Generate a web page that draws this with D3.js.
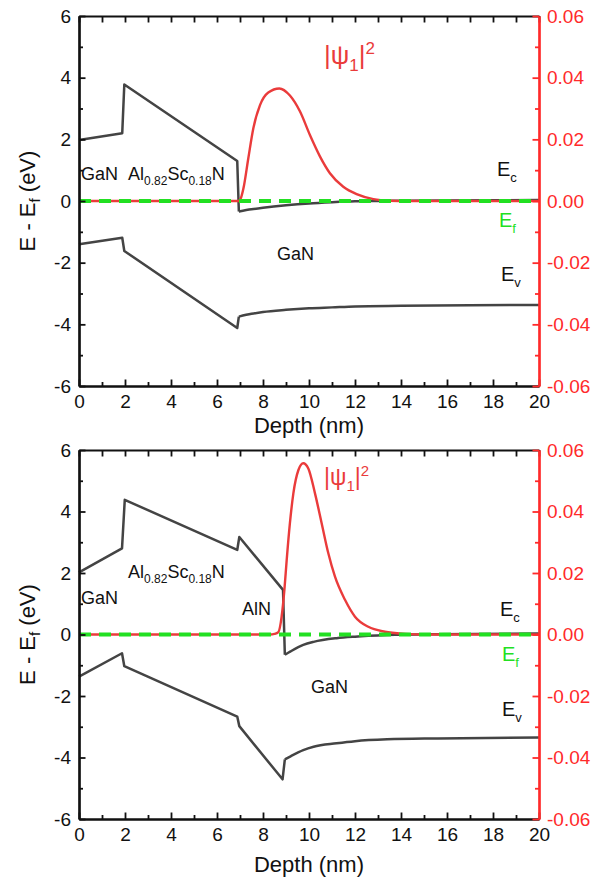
<!DOCTYPE html>
<html><head><meta charset="utf-8">
<script src="https://cdn.jsdelivr.net/npm/d3@7"></script>
<style>body{margin:0;background:#fff}svg{display:block}text{font-family:"Liberation Sans",Arial,sans-serif}</style>
</head><body><svg id="c" width="597" height="880"></svg>
<script>
// ---------- DATA ----------
const xTicks = [0,2,4,6,8,10,12,14,16,18,20];
const yTicks = [-6,-4,-2,0,2,4,6];
const y2Ticks = [-0.06,-0.04,-0.02,0,0.02,0.04,0.06];

// Panel 1 (GaN / Al0.82Sc0.18N / GaN)
const ecTopLin = [[0,1.98],[1.88,2.2],[1.97,3.78],[6.88,1.3],[6.95,-0.34]];
const ecTopTail = [[6.95,-0.34],[7.5,-0.27],[8,-0.22],[9,-0.14],[10,-0.08],[11,-0.04],[12,-0.01],[13,0.0],[14,0.01],[16,0.02],[20,0.03]];
const evTopLin = [[0,-1.4],[1.88,-1.19],[1.97,-1.62],[6.88,-4.12],[6.95,-3.75]];
const evTopTail = [[6.95,-3.75],[7.5,-3.66],[8,-3.6],[9,-3.53],[10,-3.48],[11,-3.45],[12,-3.42],[14,-3.4],[17,-3.38],[20,-3.37]];
const psiTop = [[0,0],[6.93,0],[7.05,0.0012],[7.15,0.0041],[7.36,0.0138],[7.58,0.0236],[7.87,0.0311],[8.23,0.0352],[8.71,0.0365],[9.17,0.0342],[9.61,0.029],[10.04,0.0214],[10.48,0.0144],[10.91,0.009],[11.49,0.0046],[12.07,0.0022],[12.8,0.0006],[13.5,0.0001],[14.3,0],[20,0]];

// Panel 2 (GaN / Al0.82Sc0.18N / AlN / GaN)
const ecBotLin = [[0,2.02],[1.87,2.8],[1.99,4.38],[6.88,2.75],[6.97,3.17],[8.87,1.45],[8.95,-0.66]];
const ecBotTail = [[8.95,-0.66],[9.2,-0.55],[9.75,-0.34],[10.2,-0.24],[11.2,-0.12],[12,-0.07],[13.4,-0.02],[15.6,0.01],[20,0.03]];
const evBotLin = [[0,-1.37],[1.87,-0.61],[1.97,-1.03],[6.88,-2.67],[6.97,-2.98],[8.85,-4.71],[8.95,-4.06]];
const evBotTail = [[8.95,-4.06],[9.2,-3.96],[9.75,-3.76],[10.2,-3.65],[11.2,-3.54],[12,-3.47],[13.4,-3.41],[15.6,-3.38],[20,-3.35]];
const psiBot = [[0,0],[8.3,0],[8.5,0.0002],[8.67,0.0008],[8.81,0.0058],[8.93,0.0145],[9.03,0.0242],[9.17,0.0362],[9.32,0.0459],[9.54,0.0535],[9.75,0.0557],[9.97,0.054],[10.26,0.0459],[10.55,0.0362],[10.84,0.0264],[11.13,0.0188],[11.57,0.0112],[12.0,0.0058],[12.58,0.0025],[13.3,0.0009],[14.2,0.0002],[15,0],[20,0]];
const efLine = [[0,0],[20,0]];

// ---------- DRAW ----------
const svg = d3.select("#c");
const L = 79, R = 539;
const BAND = "#444", RED = "#ea3b3b", GREEN = "#22e022", AXRED = "#ff2a2a";

function panel(top, bottom, d) {
  const x = d3.scaleLinear().domain([0,20]).range([L,R]);
  const y = d3.scaleLinear().domain([-6,6]).range([bottom,top]);
  const y2 = d3.scaleLinear().domain([-0.06,0.06]).range([bottom,top]);
  const g = svg.append("g");
  const lin = d3.line().x(p=>x(p[0])).y(p=>y(p[1]));
  const mono = d3.line().x(p=>x(p[0])).y(p=>y(p[1])).curve(d3.curveMonotoneX);
  const psiL = d3.line().x(p=>x(p[0])).y(p=>y2(p[1])).curve(d3.curveMonotoneX);
  [[d.ecLin,lin],[d.ecTail,mono],[d.evLin,lin],[d.evTail,mono]].forEach(([arr,gen])=>{
    g.append("path").attr("d",gen(arr)).attr("fill","none").attr("stroke",BAND).attr("stroke-width",2.5).attr("stroke-linejoin","round");
  });
  g.append("path").attr("d",psiL(d.psi)).attr("fill","none").attr("stroke",RED).attr("stroke-width",2.4);
  g.append("path").attr("d",lin(efLine)).attr("fill","none").attr("stroke",GREEN).attr("stroke-width",4).attr("stroke-dasharray","12,8");

  const fmt = v=>String(v);
  const styleAx = (sel,col)=>{sel.selectAll("path.domain").attr("stroke",col).attr("stroke-width",2.2);
    sel.selectAll(".tick line").attr("stroke",col).attr("stroke-width",1.8);
    sel.selectAll("text").attr("fill",col).style("font-size","19px").style("font-family",'"Liberation Sans",Arial,sans-serif');};
  const minorX = d3.range(1,20,2);
  styleAx(g.append("g").attr("transform",`translate(0,${bottom})`).call(d3.axisBottom(x).tickValues(minorX).tickSize(-4).tickSizeOuter(0).tickFormat("")),"#111");
  styleAx(g.append("g").attr("transform",`translate(0,${bottom})`).call(d3.axisBottom(x).tickValues(xTicks).tickSize(-6.5).tickSizeOuter(0).tickPadding(9).tickFormat(fmt)),"#111");
  styleAx(g.append("g").attr("transform",`translate(0,${top})`).call(d3.axisTop(x).tickValues(d3.range(0,21,1)).tickSize(-6.5).tickSizeOuter(0).tickFormat("")),"#111");
  styleAx(g.append("g").attr("transform",`translate(${L},0)`).call(d3.axisLeft(y).tickValues([-5,-3,-1,1,3,5]).tickSize(-4).tickSizeOuter(0).tickFormat("")),"#111");
  styleAx(g.append("g").attr("transform",`translate(${L},0)`).call(d3.axisLeft(y).tickValues(yTicks).tickSize(-6.5).tickSizeOuter(0).tickPadding(8).tickFormat(fmt)),"#111");
  styleAx(g.append("g").attr("transform",`translate(${R},0)`).call(d3.axisRight(y2).tickValues([-0.05,-0.03,-0.01,0.01,0.03,0.05]).tickSize(-4).tickSizeOuter(0).tickFormat("")),AXRED);
  styleAx(g.append("g").attr("transform",`translate(${R},0)`).call(d3.axisRight(y2).tickValues(y2Ticks).tickSize(-6.5).tickSizeOuter(0).tickPadding(8).tickFormat(v=>Math.abs(v)<1e-9?"0.00":v.toFixed(2))),AXRED);

  g.append("text").attr("x",(L+R)/2).attr("y",d.xtY).attr("text-anchor","middle").style("font-size","22px").attr("fill","#111").text("Depth (nm)");
  const yt = g.append("text").attr("transform",`translate(35,${(top+bottom)/2}) rotate(-90)`).attr("text-anchor","middle").attr("fill","#111").style("font-size","22px");
  yt.append("tspan").text("E - E");
  yt.append("tspan").attr("dy",5).style("font-size","15px").text("f");
  yt.append("tspan").attr("dy",-5).text(" (eV)");
  return g;
}

function sub(g, x, y, parts, col, size) {
  const t = g.append("text").attr("x",x).attr("y",y).attr("fill",col).style("font-size",size+"px");
  let cur = 0;
  parts.forEach(([s,k])=>{
    const target = k==="sub"?Math.round(size*0.28):k==="sup"?-Math.round(size*0.38):0;
    const sp = t.append("tspan").attr("dy",target-cur).text(s);
    if (k) sp.style("font-size",Math.round(size*0.66)+"px");
    cur = target;
  });
  return t;
}

const g1 = panel(16, 386, {ecLin:ecTopLin, ecTail:ecTopTail, evLin:evTopLin, evTail:evTopTail, psi:psiTop, xtY:433});
const g2 = panel(450, 819, {ecLin:ecBotLin, ecTail:ecBotTail, evLin:evBotLin, evTail:evBotTail, psi:psiBot, xtY:872});

// labels panel 1
sub(g1,81,180,[["GaN"]],"#111",18);
sub(g1,128,180,[["Al"],["0.82","sub"],["Sc",""],["0.18","sub"],["N",""]],"#111",18);
sub(g1,277,260,[["GaN"]],"#111",18);
sub(g1,497,176,[["E"],["c","sub"]],"#111",20);
sub(g1,499,227,[["E"],["f","sub"]],GREEN,20);
sub(g1,501,281,[["E"],["v","sub"]],"#111",20);
sub(g1,324,64,[["|ψ"],["1","sub"],["|",""],["2","sup"]],RED,26);
// labels panel 2
sub(g2,81,604,[["GaN"]],"#111",18);
sub(g2,128,578,[["Al"],["0.82","sub"],["Sc",""],["0.18","sub"],["N",""]],"#111",18);
sub(g2,242,615,[["AlN"]],"#111",18);
sub(g2,311,693,[["GaN"]],"#111",18);
sub(g2,500,616,[["E"],["c","sub"]],"#111",20);
sub(g2,502,661,[["E"],["f","sub"]],GREEN,20);
sub(g2,502,716,[["E"],["v","sub"]],"#111",20);
sub(g2,324,485,[["|ψ"],["1","sub"],["|",""],["2","sup"]],RED,23);
</script></body></html>
